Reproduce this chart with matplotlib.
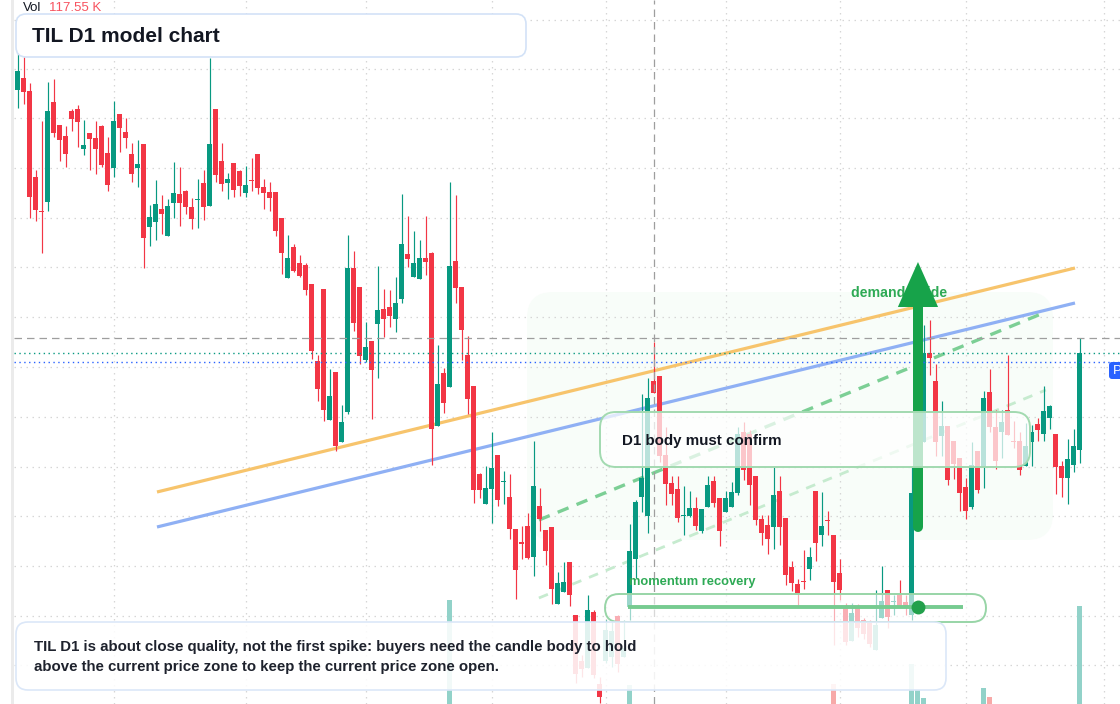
import matplotlib
matplotlib.use("Agg")
import matplotlib.pyplot as plt
from matplotlib.patches import FancyBboxPatch, Rectangle, Polygon
from matplotlib.transforms import Affine2D
import numpy as np

W, H = 1120, 704

# ---------------- data ----------------
opens = [61.43, 62.60, 61.30, 52.70, 49.32, 50.23, 60.20, 57.90, 56.80, 59.30,
         59.50, 55.53, 57.10, 56.60, 57.80, 55.10, 53.63, 59.00, 57.20, 55.00,
         53.63, 56.00, 47.73, 48.23, 49.50, 46.83, 50.13, 51.00, 51.30, 49.70,
         50.43, 52.10, 49.83, 59.53, 54.30, 52.13, 54.10, 53.30, 51.13, 52.42,
         55.00, 51.70, 51.20, 51.20, 48.60, 42.63, 45.70, 44.10, 43.90, 42.00,
         34.30, 41.50, 28.43, 33.20, 26.23, 29.23, 43.60, 41.70, 34.43, 36.30,
         38.03, 39.50, 39.72, 38.53, 40.47, 45.02, 42.67, 42.47, 44.64, 45.11,
         27.81, 33.14, 31.71, 44.34, 41.66, 34.87, 31.78, 22.99, 20.03, 21.53,
         24.89, 22.17, 20.72, 17.52, 16.23, 17.76, 14.67, 19.80, 17.42, 17.72,
         9.98, 11.20, 14.16, 8.87, 4.27, 3.63, 9.20, 1.97, 4.30, 4.73,
         8.80, 4.73, 9.73, 14.53, 20.73, 18.83, 32.30, 32.80, 24.87, 22.07,
         21.50, 18.85, 18.83, 19.60, 17.30, 19.73, 22.30, 20.60, 19.23, 19.73,
         21.13, 27.20, 27.00, 22.80, 18.50, 17.90, 17.70, 21.30, 18.60, 13.70,
         12.00, 12.35, 13.50, 21.30, 16.90, 18.40, 16.90, 13.10, 9.60, 6.33,
         9.60, 8.40, 8.20, 5.43, 8.63, 11.40, 10.20, 10.90, 10.23, 8.90,
         20.90, 26.23, 35.13, 32.30, 26.83, 27.80, 26.30, 24.60, 21.70, 19.73,
         25.30, 23.73, 31.20, 27.73, 27.23, 29.40, 26.28, 26.30, 23.80, 26.20,
         28.00, 27.03, 28.63, 27.00, 23.83, 22.63, 23.93, 25.43]
highs = [65.10, 64.67, 62.10, 53.40, 58.30, 62.20, 62.50, 57.90, 57.80, 59.50,
         59.90, 58.40, 57.10, 58.30, 57.90, 56.70, 60.30, 59.00, 58.60, 56.13,
         56.40, 56.00, 49.90, 52.40, 50.90, 50.50, 54.20, 53.70, 51.40, 50.60,
         52.50, 53.43, 64.60, 59.53, 56.10, 53.10, 54.10, 53.40, 53.80, 54.60,
         55.00, 52.47, 52.20, 51.20, 48.60, 46.90, 46.00, 44.90, 44.10, 42.00,
         34.90, 41.50, 33.50, 33.20, 29.90, 46.90, 45.30, 41.70, 38.20, 36.30,
         43.80, 41.50, 41.45, 42.71, 51.02, 48.82, 47.32, 46.41, 48.82, 45.22,
         35.95, 33.58, 52.21, 50.92, 41.66, 36.77, 31.78, 23.09, 23.80, 27.20,
         24.89, 23.30, 22.99, 17.52, 17.83, 19.12, 26.35, 21.60, 17.42, 17.72,
         13.25, 14.20, 14.16, 8.87, 4.90, 10.90, 9.40, 2.73, 8.40, 8.40,
         8.90, 8.40, 18.00, 20.40, 31.00, 32.57, 36.20, 32.80, 27.67, 22.83,
         22.83, 21.80, 21.33, 20.73, 19.50, 22.83, 22.83, 20.60, 21.33, 22.23,
         27.73, 28.23, 27.40, 22.80, 18.90, 18.90, 23.73, 22.80, 18.60, 14.30,
         12.50, 15.40, 15.70, 21.30, 21.20, 19.30, 16.90, 14.50, 10.10, 10.10,
         10.00, 8.63, 8.40, 11.40, 13.80, 11.40, 10.90, 12.40, 10.90, 23.73,
         34.90, 37.90, 38.40, 34.00, 30.30, 27.80, 26.30, 24.60, 22.60, 26.20,
         25.30, 31.30, 33.50, 29.40, 29.40, 34.90, 28.30, 27.23, 28.10, 27.90,
         28.60, 31.80, 29.90, 27.00, 24.30, 26.50, 27.50, 36.60]
lows = [59.63, 60.03, 48.63, 48.33, 45.13, 49.33, 56.73, 54.33, 53.73, 57.33,
        55.73, 54.93, 53.43, 53.03, 53.73, 51.33, 52.70, 55.23, 55.63, 52.23,
        51.73, 43.63, 45.83, 46.43, 47.03, 46.83, 48.63, 47.83, 49.03, 47.53,
        47.63, 48.43, 49.83, 52.23, 51.33, 50.50, 50.73, 50.83, 50.73, 51.33,
        51.03, 49.53, 49.33, 46.83, 43.03, 42.63, 43.23, 42.73, 40.93, 34.53,
        30.33, 28.33, 28.43, 25.33, 26.23, 29.03, 37.33, 34.03, 34.23, 28.53,
        32.63, 36.70, 37.69, 37.18, 40.10, 43.66, 42.67, 42.47, 42.88, 23.87,
        27.81, 29.10, 31.71, 40.10, 34.40, 29.03, 20.14, 20.65, 20.03, 18.07,
        19.77, 19.97, 16.54, 10.47, 14.51, 14.54, 12.77, 17.32, 13.86, 10.05,
        9.98, 11.20, 9.83, 2.07, 2.73, 3.63, 2.57, 0.07, 4.07, 3.73,
        3.23, 4.73, 8.40, 12.57, 19.23, 17.13, 31.13, 24.20, 19.93, 19.93,
        18.23, 16.93, 18.73, 17.40, 17.13, 19.73, 19.73, 15.83, 19.23, 19.73,
        20.93, 22.40, 19.93, 17.90, 15.90, 15.00, 15.50, 15.90, 11.90, 11.30,
        9.90, 11.50, 12.40, 14.30, 15.80, 16.90, 5.90, 10.40, 5.90, 6.33,
        6.73, 6.53, 5.73, 5.43, 8.63, 7.63, 8.90, 9.73, 8.90, 8.40,
        20.40, 26.23, 32.90, 24.83, 24.83, 21.90, 22.50, 19.33, 18.53, 19.47,
        21.13, 21.63, 27.23, 23.50, 24.63, 26.93, 25.57, 22.93, 23.80, 23.80,
        26.30, 26.33, 27.53, 21.00, 20.73, 20.03, 23.23, 24.13]
closes = [63.30, 61.23, 50.73, 49.43, 49.25, 59.30, 57.13, 56.43, 55.03, 58.53,
          58.23, 55.90, 56.53, 55.53, 53.87, 51.93, 58.30, 57.63, 56.63, 53.03,
          54.00, 46.63, 48.70, 50.00, 49.03, 49.80, 51.10, 50.13, 49.73, 48.53,
          50.50, 49.73, 56.00, 52.93, 52.03, 52.47, 51.43, 51.83, 51.90, 52.35,
          51.63, 51.13, 50.63, 47.33, 45.13, 44.60, 43.33, 42.83, 41.43, 35.33,
          31.53, 29.43, 30.80, 25.83, 28.20, 43.60, 38.13, 34.83, 35.70, 33.43,
          39.40, 38.53, 38.80, 40.06, 46.03, 44.47, 44.13, 44.64, 44.17, 27.54,
          31.98, 30.12, 43.83, 41.59, 37.38, 30.52, 21.42, 21.36, 21.60, 23.60,
          20.44, 22.34, 17.46, 13.38, 15.96, 14.64, 21.80, 18.50, 15.35, 11.48,
          12.12, 12.25, 10.90, 3.03, 3.53, 9.40, 2.93, 0.73, 7.40, 7.30,
          4.00, 5.57, 15.30, 20.20, 22.60, 30.60, 31.13, 24.83, 22.03, 21.00,
          18.63, 18.92, 19.60, 17.83, 19.50, 21.93, 20.13, 17.33, 20.60, 21.20,
          27.00, 23.40, 21.90, 18.40, 17.10, 16.50, 20.90, 17.70, 12.90, 12.10,
          11.10, 12.25, 14.70, 16.10, 17.80, 18.32, 12.20, 11.40, 6.23, 9.10,
          7.63, 7.03, 6.03, 7.90, 10.30, 8.73, 10.27, 9.73, 9.73, 21.10,
          34.40, 35.10, 34.63, 26.23, 27.80, 22.40, 24.03, 21.13, 19.33, 23.90,
          21.40, 30.60, 27.73, 24.33, 28.20, 26.93, 26.22, 23.43, 25.80, 27.20,
          27.40, 29.30, 29.80, 23.73, 22.63, 24.50, 25.80, 35.10]

vol_idx = [72, 102, 136, 149, 150, 151, 161, 162, 177]
vol_k = [122.9, 50.8, 51.7, 68.6, 46.6, 39.8, 48.3, 40.7, 117.55]

grid_prices = [3.9, 8.85, 13.8, 18.8, 23.73, 28.73, 33.67, 38.67, 43.67,
               48.57, 53.57, 58.57, 63.47, 68.44]
grid_idx = [16, 38, 58, 79, 98, 118, 137, 158, 181]

orange_x, orange_y = [23.25, 176.25], [21.2, 43.6]
blue_x, blue_y = [23.25, 176.25], [17.7, 40.1]
gdash_x, gdash_y = [86.9, 171.4], [18.4, 39.2]
ldash_x, ldash_y = [86.9, 171.4], [10.6, 31.4]

crosshair_idx = 106
crosshair_price = 36.6
last_close_price = 35.1
blue_price = 34.2

arrow_idx = 150.08
arrow_from, arrow_to = 17.7, 44.2
momentum_x = [101.75, 157.6]
momentum_price = 9.7
momentum_dot = 150.08

# ---------------- styling ----------------
UP, DN = "#089981", "#f23645"
plt.rcParams['font.family'] = ['Liberation Sans', 'DejaVu Sans']

fig = plt.figure(figsize=(W / 100, H / 100), dpi=100)
fig.patch.set_facecolor("white")
PX = Affine2D().scale(1 / W, -1 / H).translate(0, 1) + fig.transFigure
XLIM = (-17.5 / 6, (W - 17.5) / 6)

# background axes: grid and left strip
bg = fig.add_axes([0, 0, 1, 1], zorder=0)
bg.set_xlim(*XLIM)
bg.set_ylim(0, 70.4)
bg.axis("off")
for gp in grid_prices:
    bg.axhline(gp, color="#d6d6d6", lw=0.9, ls=(0, (1.2, 3.6)), xmin=13.5 / W)
for gi in grid_idx:
    bg.axvline(gi, color="#d6d6d6", lw=0.9, ls=(0, (1.2, 3.6)))
bg.add_patch(Rectangle((10.5, 0), 3, H, transform=PX, color="#ebebeb", lw=0))
bg.add_patch(FancyBboxPatch((527, 292), 526, 248,
                            boxstyle="round,pad=0,rounding_size=26",
                            transform=PX, fc="#f8fdf9", ec="none"))

# volume axes (baseline below the visible area)
vol_scale_px = 1.18
vmax = 200
vh = vmax * vol_scale_px
vax = fig.add_axes([0, (H - 745) / H, 1, vh / H], zorder=1)
vax.set_xlim(*XLIM)
vax.set_ylim(0, vmax)
vax.axis("off")
vcols = ["#92d2c9" if closes[i] >= opens[i] else "#f7a9a8" for i in vol_idx]
vax.bar(vol_idx, vol_k, width=0.85, color=vcols, lw=0)

# main axes
ax = fig.add_axes([0, 0, 1, 1], zorder=2)
ax.patch.set_alpha(0)
ax.set_xlim(*XLIM)
ax.set_ylim(0, 70.4)
ax.axis("off")

idx = np.arange(len(opens))
o, h, l, c = map(np.array, (opens, highs, lows, closes))
up = c >= o
cols = np.where(up, UP, DN)
body_lo = np.minimum(o, c)
body_h = np.maximum(np.abs(c - o), 0.09)

# trend lines
ax.plot(orange_x, orange_y, color="#f7c46c", lw=2.3, solid_capstyle="butt", zorder=3)
ax.plot(blue_x, blue_y, color="#8fb0f4", lw=2.3, solid_capstyle="butt", zorder=3)
ax.plot(gdash_x, gdash_y, color="#7ccf95", lw=2.4, ls=(0, (3.5, 2.6)), zorder=3)
ax.plot(ldash_x, ldash_y, color="#c6ebcf", lw=2.0, ls=(0, (3.5, 3.0)), zorder=3)

# candles
ax.vlines(idx, l, h, colors=cols, lw=0.85, zorder=4)
ax.bar(idx, body_h, bottom=body_lo, width=0.84, color=cols, lw=0, zorder=5)

# price lines and crosshair
ax.axhline(crosshair_price, color="#9e9e9e", lw=0.9, ls=(0, (6, 4)), xmin=13.5 / W, zorder=6)
ax.axvline(crosshair_idx, color="#9e9e9e", lw=0.9, ls=(0, (6, 4)), zorder=6)
ax.axhline(last_close_price, color=UP, lw=1.0, ls=(0, (1, 2.5)), xmin=13.5 / W, zorder=6)
ax.axhline(blue_price, color="#2962ff", lw=1.0, ls=(0, (1, 2.5)), xmin=13.5 / W, zorder=6)

# demand guide text + arrow
ax.text(851, 293, "demand guide", transform=PX, fontsize=10.2, fontweight="bold",
        color="#2eaa55", va="center", ha="left", zorder=6.5)
ax.plot([arrow_idx, arrow_idx], [arrow_from, 40.5], color="#17a34a", lw=7.2,
        solid_capstyle="round", zorder=7)
ax.add_patch(Polygon([(arrow_idx - 3.35, 39.7), (arrow_idx + 3.35, 39.7),
                      (arrow_idx, arrow_to)], closed=True, color="#17a34a",
                     lw=0, zorder=7))

# boxes
def rbox(x, y, w, hgt, r, fc, ec, alpha, lw=1.2, z=8):
    p = FancyBboxPatch((x, y), w, hgt, boxstyle=f"round,pad=0,rounding_size={r}",
                       transform=PX, fc=fc, ec=ec, lw=lw, zorder=z)
    p.set_facecolor(matplotlib.colors.to_rgba(fc, alpha))
    ax.add_patch(p)

rbox(16, 14, 510, 43, 10, "white", "#d3e2f7", 1.0)
ax.text(32, 36, "TIL D1 model chart", transform=PX, fontsize=15, fontweight="bold",
        color="#131722", va="center", ha="left", zorder=9)

rbox(600, 412, 430, 55, 16, "white", "#a2dab0", 0.72, lw=1.4)
ax.text(622, 441, "D1 body must confirm", transform=PX, fontsize=10.9,
        fontweight="bold", color="#131722", va="center", ha="left", zorder=9)

rbox(605, 594, 381, 28, 14, "white", "#98d5a7", 0.6, lw=1.4)
ax.text(629, 582, "momentum recovery", transform=PX, fontsize=9.3,
        fontweight="bold", color="#2eaa55", va="center", ha="left", zorder=9)
ax.plot(momentum_x, [momentum_price, momentum_price], color="#76cb90", lw=2.8,
        solid_capstyle="butt", zorder=10)
ax.plot([momentum_dot], [momentum_price], "o", color="#22a04b", ms=10, mew=0, zorder=11)

rbox(16, 622, 930, 68, 12, "white", "#dbe7f8", 0.88)
ax.text(34, 647, "TIL D1 is about close quality, not the first spike: buyers need the candle body to hold",
        transform=PX, fontsize=10.8, fontweight="bold", color="#1e222d",
        va="center", ha="left", zorder=9)
ax.text(34, 667, "above the current price zone to keep the current price zone open.",
        transform=PX, fontsize=10.8, fontweight="bold", color="#1e222d",
        va="center", ha="left", zorder=9)

# header volume label
ax.text(23, 8, "Vol", transform=PX, fontsize=9.5, color="#131722", va="center",
        ha="left", zorder=9)
ax.text(49, 8, "117.55 K", transform=PX, fontsize=9.5, color="#f7525f",
        va="center", ha="left", zorder=9)

# price label at right edge
ax.add_patch(FancyBboxPatch((1109, 362), 20, 17, boxstyle="round,pad=0,rounding_size=3",
                            transform=PX, fc="#2962ff", ec="none", zorder=9))
ax.text(1113, 370.5, "P", transform=PX, fontsize=9.5, color="white", va="center",
        ha="left", zorder=10)

fig.savefig("out.png", dpi=100, facecolor="white")
